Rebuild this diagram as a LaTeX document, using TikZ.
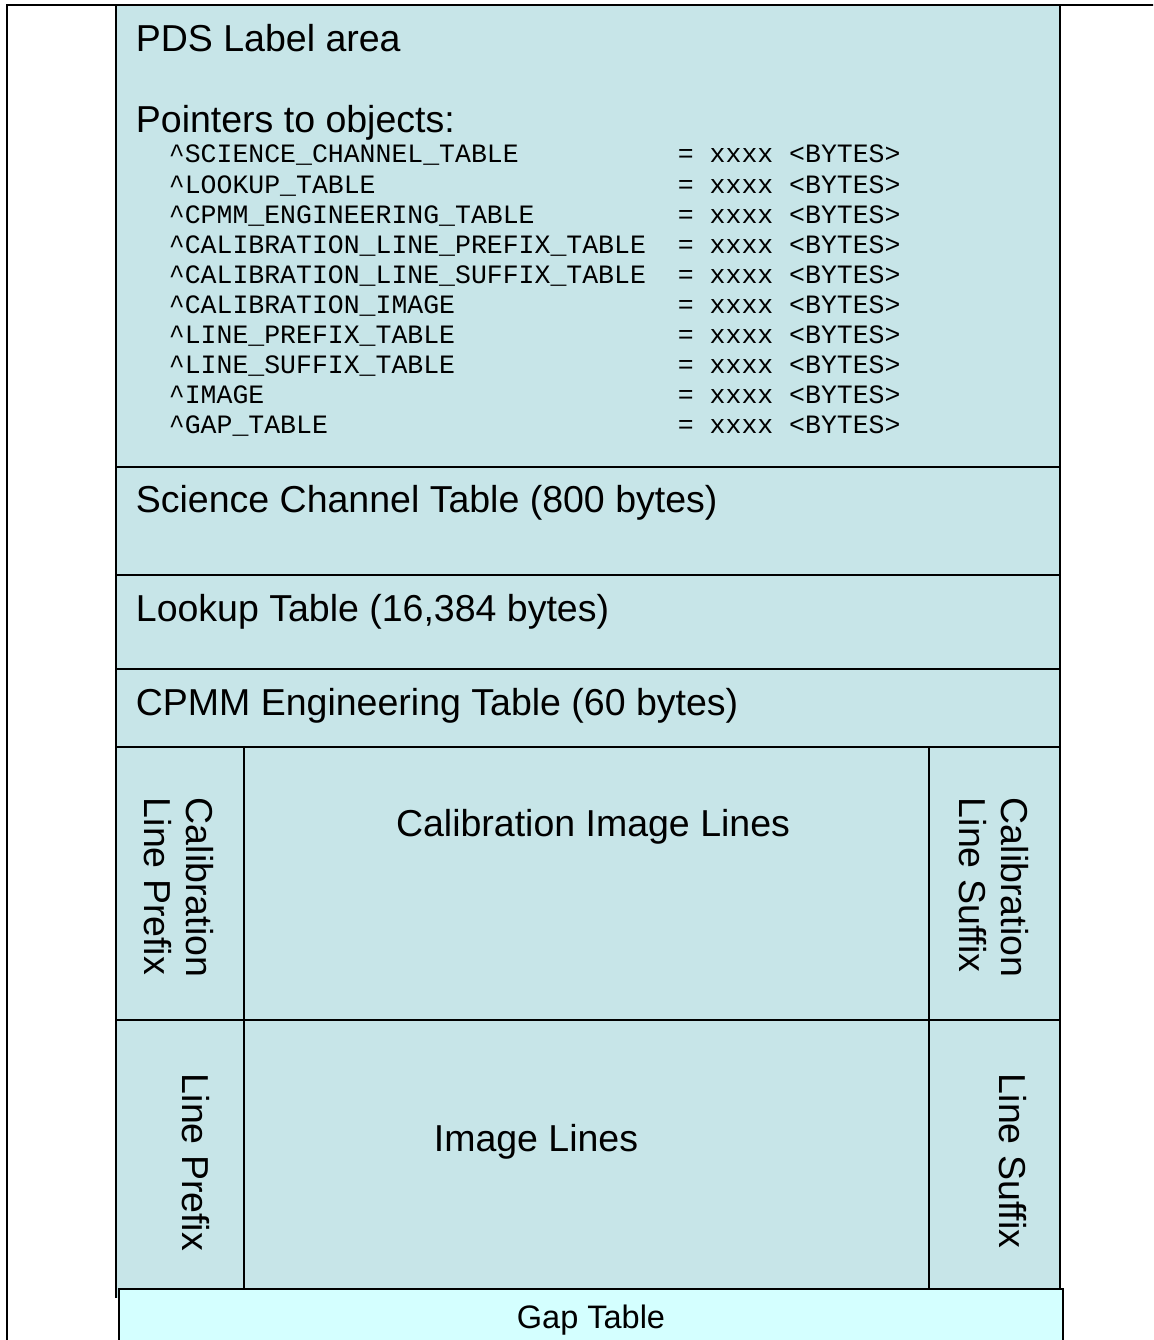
\documentclass[tikz,border=0pt]{standalone}
\usepackage{fontspec}
\setmainfont{Liberation Sans}
\newfontfamily\monofont{Liberation Mono}
\definecolor{cellblue}{HTML}{C7E5E8}
\definecolor{gapcyan}{HTML}{D4FFFF}
\begin{document}
\begin{tikzpicture}[x=1pt,y=-1pt,line width=1.8pt,
  bigtxt/.style={font=\fontsize{37.5}{42}\selectfont,inner sep=0pt},
  lefttxt/.style={bigtxt,anchor=base west},
  ctrtxt/.style={bigtxt,anchor=base},
  monotxt/.style={font=\monofont\fontsize{26.5}{30}\selectfont,inner sep=0pt,anchor=base west},
  vtxt/.style={bigtxt,rotate=-90,anchor=west,align=left}]
\useasboundingbox (0,0) rectangle (1153,1340);
\begin{scope}
\clip (0,0) rectangle (1153,1340);
% outer frame
\draw (7,1350) -- (7,5) -- (1160,5);
% main column
\fill[cellblue] (116,5) rectangle (1060,1298);
\draw (116,1298) -- (116,5) -- (1060,5) -- (1060,1289);
\draw (116,467) -- (1060,467);
\draw (116,575) -- (1060,575);
\draw (116,669) -- (1060,669);
\draw (116,747) -- (1060,747);
\draw (116,1020) -- (1060,1020);
\draw (244,747) -- (244,1289);
\draw (929,747) -- (929,1289);
% gap table
\filldraw[fill=gapcyan] (119,1289) rectangle (1063,1360);
\end{scope}

\node[lefttxt] (pds) at (135,52) {PDS Label area};
\node[lefttxt] (ptrs) at (135,133) {Pointers to objects:};
\foreach \nm [count=\i] in {SCIENCE\_CHANNEL\_TABLE,LOOKUP\_TABLE,CPMM\_ENGINEERING\_TABLE,CALIBRATION\_LINE\_PREFIX\_TABLE,CALIBRATION\_LINE\_SUFFIX\_TABLE,CALIBRATION\_IMAGE,LINE\_PREFIX\_TABLE,LINE\_SUFFIX\_TABLE,IMAGE,GAP\_TABLE}{
  \node[monotxt] (ptr\i) at (168,{163+30.1*(\i-1)}) {\textasciicircum\nm};
  \node[monotxt] (val\i) at (677,{163+30.1*(\i-1)}) {= xxxx <BYTES>};
}
\node[lefttxt] (sct) at (135,512) {Science Channel Table (800 bytes)};
\node[lefttxt] (lut) at (135,621) {Lookup Table (16,384 bytes)};
\node[lefttxt] (cpmm) at (135,715) {CPMM Engineering Table (60 bytes)};
\node[ctrtxt] (calimg) at (593,836) {Calibration Image Lines};
\node[ctrtxt] (img) at (536,1151) {Image Lines};
\node[vtxt] (calpre) at (179,797) {Calibration\\Line Prefix};
\node[vtxt] (calsuf) at (994,797) {Calibration\\Line Suffix};
\node[vtxt] (lpre) at (196,1073) {Line Prefix};
\node[vtxt] (lsuf) at (1013,1073) {Line Suffix};
\node[font=\fontsize{32.5}{36}\selectfont,inner sep=0pt,anchor=base] (gap) at (591,1328) {Gap Table};
\end{tikzpicture}
\end{document}
